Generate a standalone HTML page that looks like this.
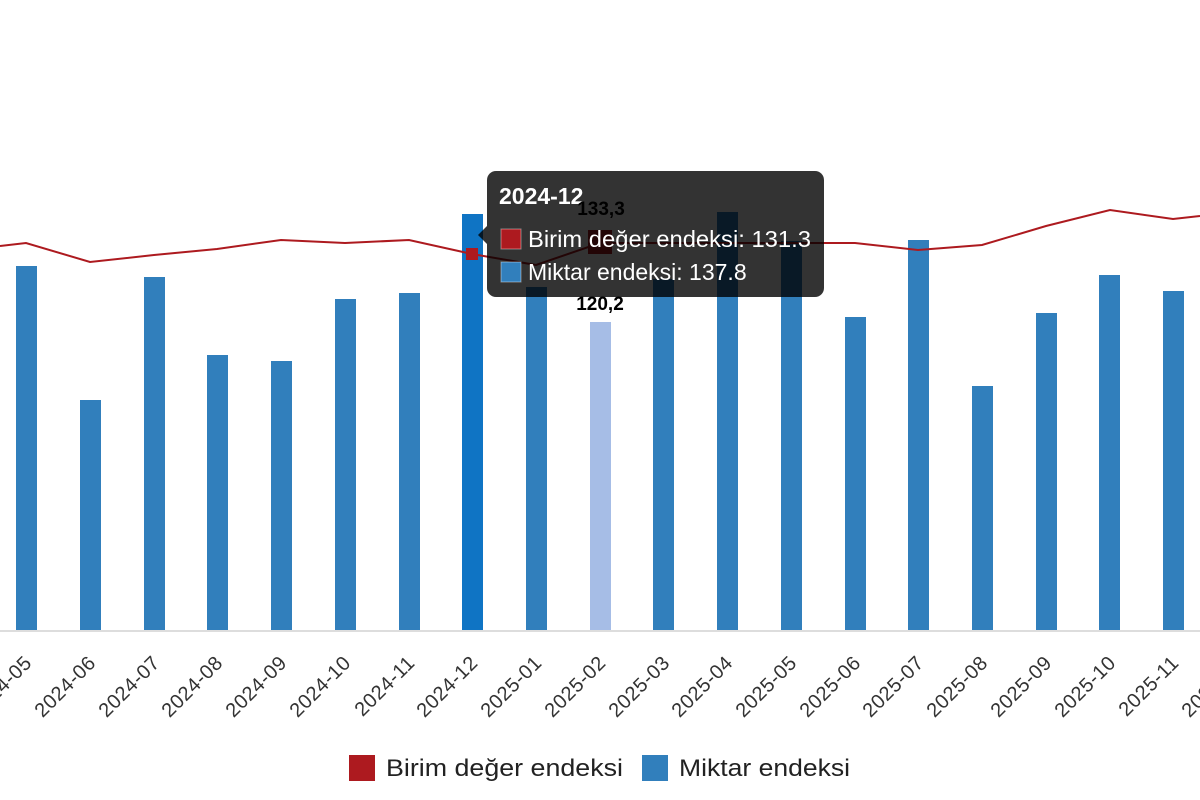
<!DOCTYPE html>
<html><head><meta charset="utf-8"><style>
html,body{margin:0;padding:0;background:#fff;}
svg{display:block;font-family:"Liberation Sans",sans-serif;}
</style></head><body>
<svg width="1200" height="800" viewBox="0 0 1200 800">
<g fill="#317fbc">
<rect x="16" y="266" width="21" height="365"/>
<rect x="80" y="400" width="21" height="231"/>
<rect x="144" y="277" width="21" height="354"/>
<rect x="207" y="355" width="21" height="276"/>
<rect x="271" y="361" width="21" height="270"/>
<rect x="335" y="299" width="21" height="332"/>
<rect x="399" y="293" width="21" height="338"/>
<rect x="462" y="214" width="21" height="417" fill="#0f74c4"/>
<rect x="526" y="287" width="21" height="344"/>
<rect x="590" y="322" width="21" height="309" fill="#a6bde6"/>
<rect x="653" y="279" width="21" height="352"/>
<rect x="717" y="212" width="21" height="419"/>
<rect x="781" y="241" width="21" height="390"/>
<rect x="845" y="317" width="21" height="314"/>
<rect x="908" y="240" width="21" height="391"/>
<rect x="972" y="386" width="21" height="245"/>
<rect x="1036" y="313" width="21" height="318"/>
<rect x="1099" y="275" width="21" height="356"/>
<rect x="1163" y="291" width="21" height="340"/>
</g>
<line x1="0" y1="631" x2="1200" y2="631" stroke="#ddd" stroke-width="2"/>
<polyline fill="none" stroke="#ad1a1f" stroke-width="2" points="0,246 26,243 90,262 154,255 217,249 281,240 345,243 409,240 472,254 536,265 600,243 664,243 727,243 791,243 855,243 918,250 982,245 1046,226 1110,210 1173,219 1200,216"/>
<rect x="466" y="248" width="12" height="12" fill="#ad1a1f"/>
<rect x="588" y="230" width="24" height="24" fill="#ad1a1f"/>
<text x="600" y="310" font-weight="bold" font-size="19" text-anchor="middle" fill="#000">120,2</text>
<g>
<rect x="487" y="171" width="337" height="126" rx="9" fill="rgba(0,0,0,0.8)"/>
<polygon points="487,226 478,235 487,244" fill="rgba(0,0,0,0.8)"/>
<text x="499" y="204" font-size="23" font-weight="bold" fill="#fff">2024-12</text>
<rect x="501" y="229" width="20" height="20" fill="#ad1a1f" stroke="#fff" stroke-opacity="0.4"/>
<text x="528" y="247" font-size="23" fill="#fff" textLength="283" lengthAdjust="spacingAndGlyphs">Birim değer endeksi: 131.3</text>
<rect x="501" y="262" width="20" height="20" fill="#317fbc" stroke="#fff" stroke-opacity="0.4"/>
<text x="528" y="280" font-size="23" fill="#fff">Miktar endeksi: 137.8</text>
</g>
<text x="601" y="215" font-size="19" font-weight="bold" text-anchor="middle" fill="#000">133,3</text>
<g font-size="20" fill="#333" text-anchor="end" letter-spacing="0.5">
<text transform="translate(33,664) rotate(-45)">2024-05</text>
<text transform="translate(97,664) rotate(-45)">2024-06</text>
<text transform="translate(161,664) rotate(-45)">2024-07</text>
<text transform="translate(224,664) rotate(-45)">2024-08</text>
<text transform="translate(288,664) rotate(-45)">2024-09</text>
<text transform="translate(352,664) rotate(-45)">2024-10</text>
<text transform="translate(416,664) rotate(-45)">2024-11</text>
<text transform="translate(479,664) rotate(-45)">2024-12</text>
<text transform="translate(543,664) rotate(-45)">2025-01</text>
<text transform="translate(607,664) rotate(-45)">2025-02</text>
<text transform="translate(671,664) rotate(-45)">2025-03</text>
<text transform="translate(734,664) rotate(-45)">2025-04</text>
<text transform="translate(798,664) rotate(-45)">2025-05</text>
<text transform="translate(862,664) rotate(-45)">2025-06</text>
<text transform="translate(925,664) rotate(-45)">2025-07</text>
<text transform="translate(989,664) rotate(-45)">2025-08</text>
<text transform="translate(1053,664) rotate(-45)">2025-09</text>
<text transform="translate(1117,664) rotate(-45)">2025-10</text>
<text transform="translate(1180,664) rotate(-45)">2025-11</text>
<text transform="translate(1244,664) rotate(-45)">2025-12</text>
</g>
<rect x="349" y="755" width="26" height="26" fill="#ad1a1f"/>
<text x="386" y="776" font-size="24" fill="#222" textLength="237" lengthAdjust="spacingAndGlyphs">Birim değer endeksi</text>
<rect x="642" y="755" width="26" height="26" fill="#317fbc"/>
<text x="679" y="776" font-size="24" fill="#222" textLength="171" lengthAdjust="spacingAndGlyphs">Miktar endeksi</text>
</svg>
</body></html>
